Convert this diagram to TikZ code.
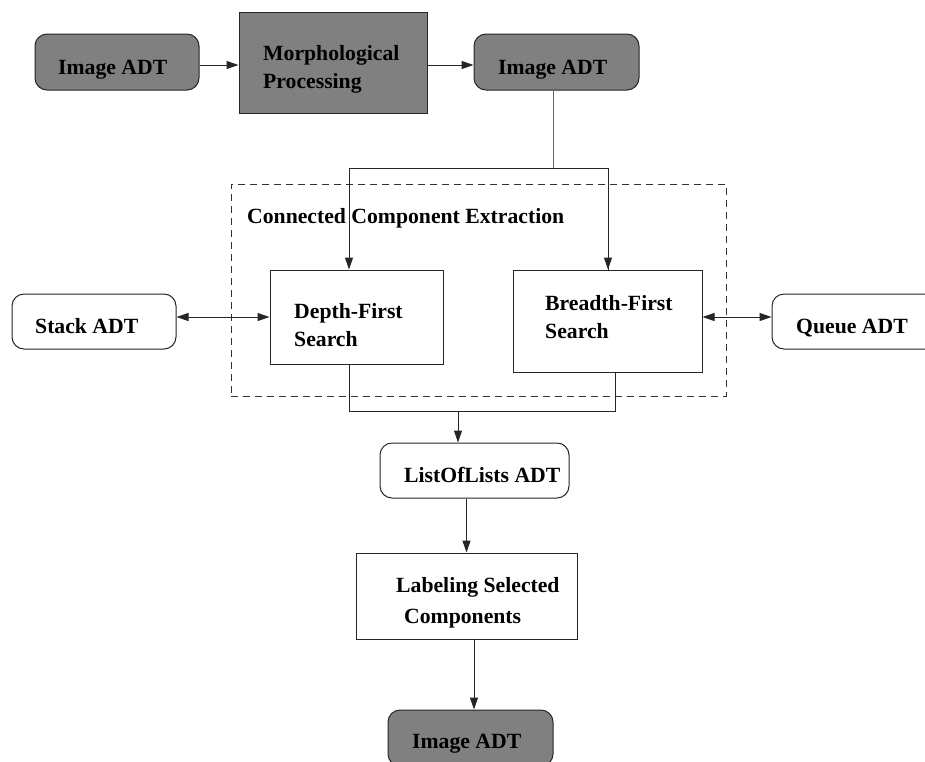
\documentclass[tikz,border=0pt]{standalone}
\usepackage{fontspec}
\setmainfont{Liberation Serif}
\usetikzlibrary{arrows.meta}
\begin{document}
\begin{tikzpicture}[x=1pt,y=-1pt,
  every node/.style={font=\fontsize{21.7}{28}\selectfont\bfseries},
  ln/.style={line width=1pt,draw=black!85},
  graybox/.style={ln,fill=black!50,rounded corners=12pt,minimum width=#1,minimum height=56pt,inner sep=0pt},
  whitebox/.style={ln,fill=white,rounded corners=12pt,minimum width=#1,minimum height=55pt,inner sep=0pt},
  sqbox/.style={ln,fill=white,inner sep=0pt},
  txt/.style={anchor=base west,inner sep=0pt,align=left},
  arr/.style={ln,-{Triangle[length=12pt,width=8pt]}},
  darr/.style={ln,{Triangle[length=12pt,width=8pt]}-{Triangle[length=12pt,width=8pt]}}]
\useasboundingbox (0,0) rectangle (925,761);
% dashed frame
\node[draw=black!80,line width=1pt,dash pattern=on 7pt off 5pt,minimum width=495pt,minimum height=212pt,inner sep=0pt] (cce) at (478.5,290) {};
% boxes
\node[graybox=164pt] (img1) at (117,62) {};
\node[ln,fill=black!50,minimum width=188pt,minimum height=101pt,inner sep=0pt] (morph) at (333,62.5) {};
\node[graybox=165pt] (img2) at (556.5,62) {};
\node[sqbox,minimum width=173pt,minimum height=94pt] (dfs) at (356.5,317) {};
\node[sqbox,minimum width=189pt,minimum height=102pt] (bfs) at (607.5,321) {};
\node[whitebox=164pt] (stack) at (94,321.5) {};
\node[whitebox=168pt] (queue) at (856,321.5) {};
\node[whitebox=189pt] (list) at (474.5,470.5) {};
\node[sqbox,minimum width=221pt,minimum height=86pt] (lab) at (466.5,596) {};
\node[graybox=165pt] (img3) at (470.5,738) {};
% texts
\node[txt] (t1) at (58,74) {Image ADT};
\node[txt] (t2) at (263,88) {Morphological\\Processing};
\node[txt] (t3) at (498,74) {Image ADT};
\node[txt] (t4) at (247,223) {Connected Component Extraction};
\node[txt] (t5) at (294,346) {Depth-First\\Search};
\node[txt] (t6) at (545,338) {Breadth-First\\Search};
\node[txt] (t7) at (35,333) {Stack ADT};
\node[txt] (t8) at (796,333) {Queue ADT};
\node[txt] (t9) at (404,482) {ListOfLists ADT};
\node[txt] (t10) at (396,592) {Labeling Selected};
\node[txt] (t11) at (404,623) {Components};
\node[txt] (t12) at (412,748) {Image ADT};
% connectors
\draw[arr] ([yshift=-3]img1.east) -- ([yshift=-3]img1.east -| morph.west);
\draw[arr] ([yshift=-3]img2.west -| morph.east) -- ([yshift=-3]img2.west);
\coordinate (split) at (553,168);
\draw[ln,draw=black!60] ([xshift=-3.5]img2.south) -- (split);
\draw[ln] (split) -| ([xshift=0.5]bfs.north);
\draw[arr] (split) -| ([xshift=-7.5]dfs.north);
\draw[arr] ([xshift=0.5]bfs.north |- split) -- ([xshift=0.5]bfs.north);
\draw[darr] (stack.east |- dfs.west) -- (dfs.west);
\coordinate (q) at ([yshift=4]bfs.east);
\draw[darr] (q) -- (q -| queue.west);
\coordinate (m) at (458,411);
\draw[ln] ([xshift=-7.5]dfs.south) |- (m) -| ([xshift=7.5]bfs.south);
\draw[arr] (m) -- (m |- list.north);
\draw[arr] (list.south -| lab.north) -- (lab.north);
\draw[arr] ([xshift=3.5]img3.north |- lab.south) -- ([xshift=3.5]img3.north);
\end{tikzpicture}
\end{document}
